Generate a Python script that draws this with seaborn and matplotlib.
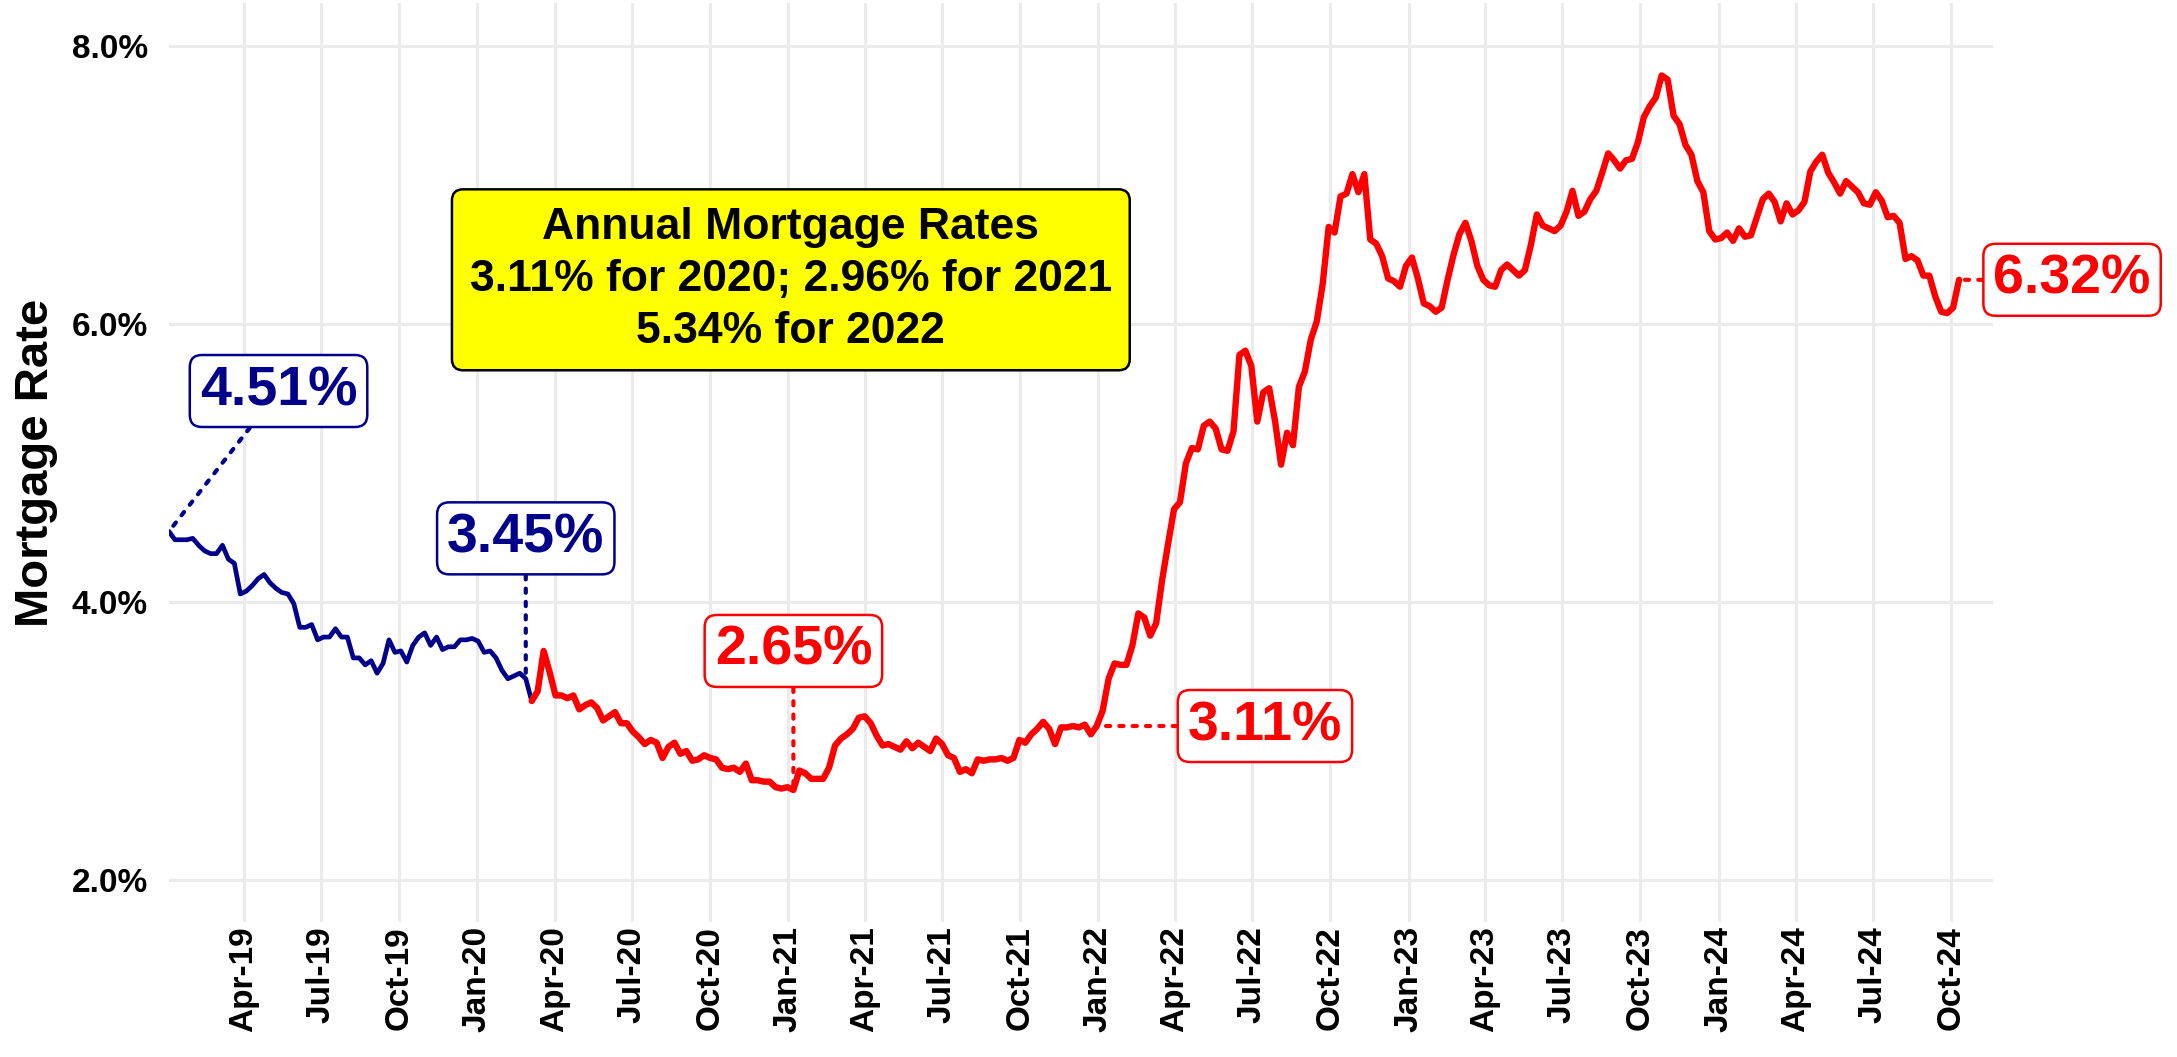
import pandas as pd
import seaborn as sns
import matplotlib.pyplot as plt
import matplotlib.dates as mdates
from matplotlib.ticker import FuncFormatter

# weekly 30-yr fixed rates (Thursdays), by year
rate_2019 = [4.51, 4.45, 4.45, 4.45, 4.46, 4.41, 4.37, 4.35, 4.35, 4.41, 4.31, 4.28, 4.06,
             4.08, 4.12, 4.17, 4.20, 4.14, 4.10, 4.07, 4.06, 3.99, 3.82, 3.82, 3.84, 3.73,
             3.75, 3.75, 3.81, 3.75, 3.75, 3.60, 3.60, 3.55, 3.58, 3.49, 3.56, 3.73, 3.64,
             3.65, 3.57, 3.69, 3.75, 3.78, 3.69, 3.75, 3.66, 3.68, 3.68, 3.73, 3.73, 3.74]
rate_2020 = [3.72, 3.64, 3.65, 3.60, 3.51, 3.45, 3.47, 3.49, 3.45, 3.29, 3.36, 3.65, 3.50,
             3.33, 3.33, 3.31, 3.33, 3.23, 3.26, 3.28, 3.24, 3.15, 3.18, 3.21, 3.13, 3.13,
             3.07, 3.03, 2.98, 3.01, 2.99, 2.88, 2.96, 2.99, 2.91, 2.93, 2.86, 2.87, 2.90,
             2.88, 2.87, 2.81, 2.80, 2.81, 2.78, 2.84, 2.72, 2.72, 2.71, 2.71, 2.67, 2.66, 2.67]
rate_2021 = [2.65, 2.79, 2.77, 2.73, 2.73, 2.73, 2.81, 2.97, 3.02, 3.05, 3.09, 3.17, 3.18,
             3.13, 3.04, 2.97, 2.98, 2.96, 2.94, 3.00, 2.95, 2.99, 2.96, 2.93, 3.02, 2.98,
             2.90, 2.88, 2.78, 2.80, 2.77, 2.87, 2.86, 2.87, 2.87, 2.88, 2.86, 2.88, 3.01,
             2.99, 3.05, 3.09, 3.14, 3.09, 2.98, 3.10, 3.10, 3.11, 3.10, 3.12, 3.05, 3.11]
rate_2022 = [3.22, 3.45, 3.56, 3.55, 3.55, 3.69, 3.92, 3.89, 3.76, 3.85, 4.16, 4.42, 4.67,
             4.72, 5.00, 5.11, 5.10, 5.27, 5.30, 5.25, 5.10, 5.09, 5.23, 5.78, 5.81, 5.70,
             5.30, 5.51, 5.54, 5.30, 4.99, 5.22, 5.13, 5.55, 5.66, 5.89, 6.02, 6.29, 6.70,
             6.66, 6.92, 6.94, 7.08, 6.95, 7.08, 6.61, 6.58, 6.49, 6.33, 6.31, 6.27, 6.42]
rate_2023 = [6.48, 6.33, 6.15, 6.13, 6.09, 6.12, 6.32, 6.50, 6.65, 6.73, 6.60, 6.42, 6.32,
             6.28, 6.27, 6.39, 6.43, 6.39, 6.35, 6.39, 6.57, 6.79, 6.71, 6.69, 6.67, 6.71,
             6.81, 6.96, 6.78, 6.81, 6.90, 6.96, 7.09, 7.23, 7.18, 7.12, 7.18, 7.19, 7.31,
             7.49, 7.57, 7.63, 7.79, 7.76, 7.50, 7.44, 7.29, 7.22, 7.03, 6.95, 6.67, 6.61]
rate_2024 = [6.62, 6.66, 6.60, 6.69, 6.63, 6.64, 6.77, 6.90, 6.94, 6.88, 6.74, 6.87, 6.79,
             6.82, 6.88, 7.10, 7.17, 7.22, 7.09, 7.02, 6.94, 7.03, 6.99, 6.95, 6.87, 6.86,
             6.95, 6.89, 6.77, 6.78, 6.73, 6.47, 6.49, 6.46, 6.35, 6.35, 6.20, 6.09, 6.08,
             6.12, 6.32]

rates = rate_2019 + rate_2020 + rate_2021 + rate_2022 + rate_2023 + rate_2024
dates = pd.date_range("2019-01-03", periods=len(rates), freq="W-THU")
split_date = pd.Timestamp("2020-03-05")

# callout labels: point date, value, label centre (date, y), colour
label_dates = ["2019-01-03", "2020-02-27", "2021-01-07", "2021-12-30", "2024-10-10"]
label_values = [4.51, 3.45, 2.65, 3.11, 6.32]
label_text_x = ["2019-05-12", "2020-02-27", "2021-01-07", "2022-07-16", "2025-02-20"]
label_text_y = [5.52, 4.46, 3.65, 3.11, 6.32]
label_colors = ["#00008B", "#00008B", "#FF0000", "#FF0000", "#FF0000"]

box_text = "Annual Mortgage Rates\n3.11% for 2020; 2.96% for 2021\n5.34% for 2022"

df = pd.DataFrame({"Date": dates, "Rate": rates})
before = df[df["Date"] <= split_date]
after = df[df["Date"] >= split_date]

sns.set_theme(style="whitegrid", rc={"grid.color": "#EBEBEB", "grid.linewidth": 2.2})
plt.rcParams["font.family"] = ["Liberation Sans", "DejaVu Sans"]

fig, ax = plt.subplots(figsize=(21.77, 10.57), dpi=100)
fig.subplots_adjust(left=0.0776, right=0.9155, top=0.997, bottom=0.1277)

sns.lineplot(data=before, x="Date", y="Rate", color="#00008B", linewidth=3.4, ax=ax)
sns.lineplot(data=after, x="Date", y="Rate", color="#FF0000", linewidth=4.6, ax=ax)

ax.set_xlim(pd.Timestamp("2019-01-03"), pd.Timestamp("2024-11-19"))
ax.set_ylim(1.7, 8.31)
ax.set_yticks([2, 4, 6, 8])
ax.yaxis.set_major_formatter(FuncFormatter(lambda v, p: f"{v:.1f}%"))
ax.xaxis.set_major_locator(mdates.MonthLocator(bymonth=[1, 4, 7, 10]))
ax.xaxis.set_major_formatter(mdates.DateFormatter("%b-%y"))
ax.grid(True, which="major")
for s in ax.spines.values():
    s.set_visible(False)

ax.tick_params(axis="x", labelrotation=90, labelsize=24, length=0, pad=3)
ax.tick_params(axis="y", labelsize=24, length=0, pad=15)
for t in ax.get_xticklabels() + ax.get_yticklabels():
    t.set_fontweight("bold")
    t.set_color("black")

ax.set_xlabel("")
ax.set_ylabel("Mortgage Rate", fontsize=34, fontweight="bold", color="black", labelpad=10)

for d, v, tx, ty, c in zip(label_dates, label_values, label_text_x, label_text_y, label_colors):
    ax.annotate(f"{v:.2f}%",
                xy=(mdates.date2num(pd.Timestamp(d)), v),
                xytext=(mdates.date2num(pd.Timestamp(tx)), ty),
                ha="center", va="center", fontsize=40, fontweight="bold", color=c,
                annotation_clip=False,
                bbox=dict(boxstyle="round,pad=0.18,rounding_size=0.22", fc="white", ec=c, lw=1.8),
                arrowprops=dict(arrowstyle="-", color=c, lw=3, linestyle=(0, (1, 2.2)),
                                shrinkA=0, shrinkB=0))

ax.text(mdates.date2num(pd.Timestamp("2021-01-04")), 6.32, box_text,
        ha="center", va="center", fontsize=32, fontweight="bold", color="black",
        linespacing=1.35,
        bbox=dict(boxstyle="round,pad=0.4,rounding_size=0.25", fc="#FFFF00", ec="black", lw=1.8))

plt.savefig("out.png", dpi=100)
